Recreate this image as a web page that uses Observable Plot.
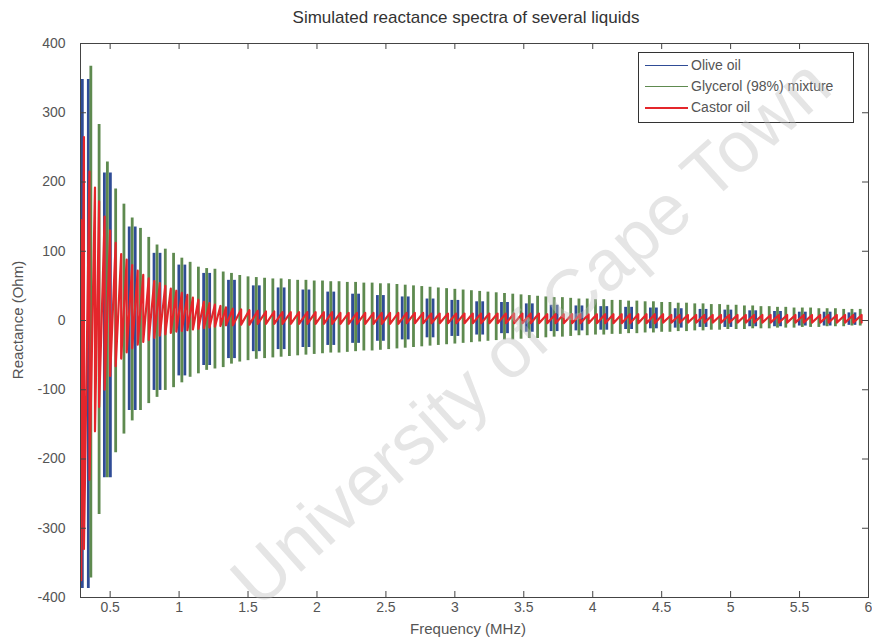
<!DOCTYPE html>
<html>
<head>
<meta charset="utf-8">
<script src="https://cdn.jsdelivr.net/npm/d3@7"></script>
<script src="https://cdn.jsdelivr.net/npm/@observablehq/plot@0.6"></script>
<style>
  body { margin: 0; background: #fff; font-family: "Liberation Sans", Arial, sans-serif; }
  #wrap { position: relative; width: 872px; height: 642px; overflow: hidden; background: #fff; }
  #title { position: absolute; left: 60px; width: 812px; top: 0; height: 30px; line-height: 36px; text-align: center; font-size: 17px; color: #333; }
  #chart { position: absolute; left: 0; top: 30px; }
  #xlabel { position: absolute; left: 368px; width: 200px; top: 620px; text-align: center; font-size: 15px; color: #555; }
  #ylabel { position: absolute; left: 17px; top: 320px; transform: translate(-50%, -50%) rotate(-90deg); white-space: nowrap; font-size: 15px; color: #555; }
  #legend { position: absolute; left: 638px; top: 52px; width: 214px; height: 69px; border: 1px solid #333; background: #fff; }
  .lrow { position: absolute; left: 6px; height: 20px; font-size: 14px; color: #555; white-space: nowrap; }
  .lrow span.sw { position: absolute; left: 0; top: 10px; width: 43px; height: 0; border-top: 1.5px solid; }
  .lrow span.tx { position: absolute; left: 46px; top: 2px; }
  #wm { position: absolute; left: 530px; top: 332px; transform: translate(-50%, -50%) rotate(-42deg); font-size: 72px; line-height: 1; white-space: nowrap; color: rgba(190,190,190,0.40); pointer-events: none; }
</style>
</head>
<body>
<div id="wrap">
  <div id="title"></div>
  <div id="chart"></div>
  <div id="xlabel"></div>
  <div id="ylabel"></div>
  <div id="legend"></div>
  <div id="wm"></div>
</div>
<script>
// ---- texts ----
const titleText = "Simulated reactance spectra of several liquids";
const xLabelText = "Frequency (MHz)";
const yLabelText = "Reactance (Ohm)";
const seriesNames = ["Olive oil", "Glycerol (98%) mixture", "Castor oil"];
const seriesColors = ["#2f4c96", "#5e8a4f", "#e4262b"];
const watermarkText = "University of Cape Town";

// ---- ticks ----
const xTicks = [0.5, 1, 1.5, 2, 2.5, 3, 3.5, 4, 4.5, 5, 5.5, 6];
const xTickLabels = ["0.5", "1", "1.5", "2", "2.5", "3", "3.5", "4", "4.5", "5", "5.5", "6"];
const yTicks = [-400, -300, -200, -100, 0, 100, 200, 300, 400];
const yTickLabels = ["-400", "-300", "-200", "-100", "0", "100", "200", "300", "400"];
const xDomain = [0.285, 6];
const yDomain = [-400, 400];

// ---- Glycerol (98%) mixture: resonance spikes (MHz, max, min in Ohm) ----
const greenF = [
  0.36,0.42,0.48,0.54,0.60,0.66,0.72,0.78,0.84,0.90,
  0.96,1.02,1.08,1.14,1.20,1.26,1.32,1.38,1.44,1.50,
  1.56,1.62,1.68,1.74,1.80,1.86,1.92,1.98,2.04,2.10,
  2.16,2.22,2.28,2.34,2.40,2.46,2.52,2.58,2.64,2.70,
  2.76,2.82,2.88,2.94,3.00,3.06,3.12,3.18,3.24,3.30,
  3.36,3.42,3.48,3.54,3.60,3.66,3.72,3.78,3.84,3.90,
  3.96,4.02,4.08,4.14,4.20,4.26,4.32,4.38,4.44,4.50,
  4.56,4.62,4.68,4.74,4.80,4.86,4.92,4.98,5.04,5.10,
  5.16,5.22,5.28,5.34,5.40,5.46,5.52,5.58,5.64,5.70,
  5.76,5.82,5.88,5.94];
const greenHi = [
  367,283,229,190,168,148,133,120,109,103,
  97,90,84,77,75,74,70,68,65,63,
  62,61,60,60,59,58,58,57,57,56,
  56,55,55,54,54,53,53,52,51,50,
  49,48,47,46,45,44,43,42,41,40,
  39,38,37,36,35,34,33,33,32,31,
  31,30,30,29,29,28,28,27,27,26,
  26,25,25,24,24,23,23,22,22,21,
  21,20,20,19,19,18,18,18,17,17,
  17,16,16,16];
const greenLo = [
  -372,-280,-227,-191,-164,-145,-130,-120,-111,-101,
  -97,-90,-82,-77,-72,-70,-68,-63,-60,-58,
  -56,-55,-54,-53,-52,-51,-50,-49,-48,-47,
  -47,-46,-45,-44,-44,-43,-42,-41,-40,-39,
  -38,-37,-36,-35,-34,-33,-32,-31,-30,-29,
  -28,-28,-27,-26,-26,-25,-24,-24,-23,-22,
  -22,-21,-21,-20,-20,-19,-19,-18,-18,-17,
  -17,-16,-16,-15,-15,-14,-14,-13,-13,-13,
  -12,-12,-12,-11,-11,-11,-10,-10,-10,-9,
  -9,-9,-8,-8];

// ---- Olive oil: resonance clusters (MHz, max, min in Ohm) ----
const blueF = [
  0.32,0.48,0.66,0.84,1.02,1.20,1.38,1.56,1.74,1.92,
  2.10,2.28,2.46,2.64,2.82,3.00,3.18,3.36,3.54,3.72,
  3.90,4.08,4.26,4.44,4.62,4.80,4.98,5.16,5.34,5.52,
  5.70,5.88];
const blueHi = [
  348,213,135,97,80,68,58,50,47,44,
  41,38,36,34,31,29,27,26,24,22,
  21,20,19,18,17,16,15,14,13,12,
  12,11];
const blueLo = [
  -387,-227,-130,-101,-80,-65,-55,-45,-42,-39,
  -36,-33,-30,-28,-25,-23,-21,-19,-17,-16,
  -15,-14,-13,-12,-11,-10,-10,-9,-9,-8,
  -8,-7];

// ---- Castor oil: resonances (MHz, max, min in Ohm) ----
const redF = [
  0.29,0.31,0.35,0.39,0.42,0.46,0.50,0.54,0.58,0.62,
  0.66,0.70,0.74,0.78,0.82,0.86,0.90,0.94,0.98,1.02,
  1.06,1.10,1.14,1.18,1.22,1.26,1.30,1.34,
  1.39,1.45,1.51,1.57,1.63,1.69,1.75,1.81,1.87,1.93,
  1.99,2.05,2.11,2.17,2.23,2.29,2.35,2.41,2.47,2.53,
  2.59,2.65,2.71,2.77,2.83,2.89,2.95,3.01,3.07,3.13,
  3.19,3.25,3.31,3.37,3.43,3.49,3.55,3.61,3.67,3.73,
  3.79,3.85,3.91,3.97,4.03,4.09,4.15,4.21,4.27,4.33,
  4.39,4.45,4.51,4.57,4.63,4.69,4.75,4.81,4.87,4.93,
  4.99,5.05,5.11,5.17,5.23,5.29,5.35,5.41,5.47,5.53,
  5.59,5.65,5.71,5.77,5.83,5.89,5.95];
const redHi = [
  145,265,215,192,172,150,130,112,96,88,
  80,72,66,61,57,54,50,46,43,40,
  37,33,30,27,25,23,21,19,
  17,16,15,14,13,13,12,12,12,12,
  12,12,12,11,11,11,11,11,11,11,
  11,11,11,11,10,10,10,10,10,10,
  10,10,10,10,10,10,10,10,9,9,
  9,9,9,9,9,9,9,9,9,9,
  9,9,9,8,8,8,8,8,8,8,
  8,8,8,8,8,8,8,8,8,8,
  8,8,8,8,8,8,8];
const redLo = [
  -375,-330,-230,-160,-125,-100,-80,-66,-55,-46,
  -40,-35,-31,-28,-25,-22,-20,-18,-16,-15,
  -14,-13,-12,-11,-10,-9,-8,-7,
  -7,-6,-6,-5,-5,-5,-5,-5,-5,-5,
  -5,-5,-5,-5,-5,-5,-5,-5,-5,-5,
  -5,-4,-4,-4,-4,-4,-4,-4,-4,-4,
  -4,-4,-4,-4,-4,-4,-4,-4,-4,-4,
  -4,-4,-4,-4,-4,-4,-4,-4,-4,-4,
  -4,-4,-3,-3,-3,-3,-3,-3,-3,-3,
  -3,-3,-3,-3,-3,-3,-3,-3,-3,-3,
  -3,-3,-3,-3,-3,-3,-3];

// ---- build tables ----
const zipSpikes = (F, H, L) => F.slice(0, Math.min(F.length, H.length, L.length)).map((f, i) => ({f, hi: H[i], lo: L[i]}));
const green = zipSpikes(greenF, greenHi, greenLo);
const blue = zipSpikes(blueF, blueHi, blueLo);
const redPts = zipSpikes(redF, redHi, redLo).flatMap(d => [{f: d.f, v: d.hi}, {f: d.f, v: d.lo}]);

const W = 872, H = 612, mt = 13, mb = 45, ml = 80, mr = 4;
const tkY = (yDomain[1] - yDomain[0]) / (H - mt - mb) * 6;
const tkX = (xDomain[1] - xDomain[0]) / (W - ml - mr) * 6;
const axisColor = "#444";

const chart = Plot.plot({
  width: W, height: H,
  marginTop: mt, marginBottom: mb, marginLeft: ml, marginRight: mr,
  x: {domain: xDomain, label: null},
  y: {domain: yDomain, label: null},
  style: {fontFamily: "'Liberation Sans', Arial, sans-serif", fontSize: "14px", color: "#555", background: "#fff", overflow: "visible"},
  marks: [
    Plot.ruleX(blue, {x: "f", y1: "lo", y2: "hi", stroke: seriesColors[0], strokeWidth: 2.8, dx: -3, clip: true}),
    Plot.ruleX(blue, {x: "f", y1: "lo", y2: "hi", stroke: seriesColors[0], strokeWidth: 2.8, dx: 3, clip: true}),
    Plot.ruleX(green, {x: "f", y1: "lo", y2: "hi", stroke: seriesColors[1], strokeWidth: 2.8, clip: true}),
    Plot.line(redPts, {x: "f", y: "v", stroke: seriesColors[2], strokeWidth: 2.2, clip: true}),
    Plot.frame({stroke: axisColor}),
    Plot.ruleX(xTicks, {x: d => d, y1: yDomain[0], y2: yDomain[0] + tkY, stroke: axisColor}),
    Plot.ruleX(xTicks, {x: d => d, y1: yDomain[1] - tkY, y2: yDomain[1], stroke: axisColor}),
    Plot.ruleY(yTicks, {y: d => d, x1: xDomain[0], x2: xDomain[0] + tkX, stroke: axisColor}),
    Plot.ruleY(yTicks, {y: d => d, x1: xDomain[1] - tkX, x2: xDomain[1], stroke: axisColor}),
    Plot.axisX({ticks: xTicks, tickSize: 0, tickPadding: 5, label: null, fill: "#555",
      tickFormat: d => xTickLabels[xTicks.indexOf(d)]}),
    Plot.axisY({ticks: yTicks, tickSize: 0, tickPadding: 15, label: null, fill: "#555",
      tickFormat: d => yTickLabels[yTicks.indexOf(d)]})
  ]
});
document.getElementById("chart").appendChild(chart);

document.getElementById("title").textContent = titleText;
document.getElementById("xlabel").textContent = xLabelText;
document.getElementById("ylabel").textContent = yLabelText;
document.getElementById("wm").textContent = watermarkText;

const legend = document.getElementById("legend");
const rowTops = [2, 23, 44];
seriesNames.forEach((name, i) => {
  const row = document.createElement("div");
  row.className = "lrow";
  row.style.top = rowTops[i] + "px";
  const sw = document.createElement("span");
  sw.className = "sw";
  sw.style.borderTopColor = seriesColors[i];
  if (i === 2) sw.style.borderTopWidth = "2px";
  const tx = document.createElement("span");
  tx.className = "tx";
  tx.textContent = name;
  row.appendChild(sw);
  row.appendChild(tx);
  legend.appendChild(row);
});
</script>
</body>
</html>
